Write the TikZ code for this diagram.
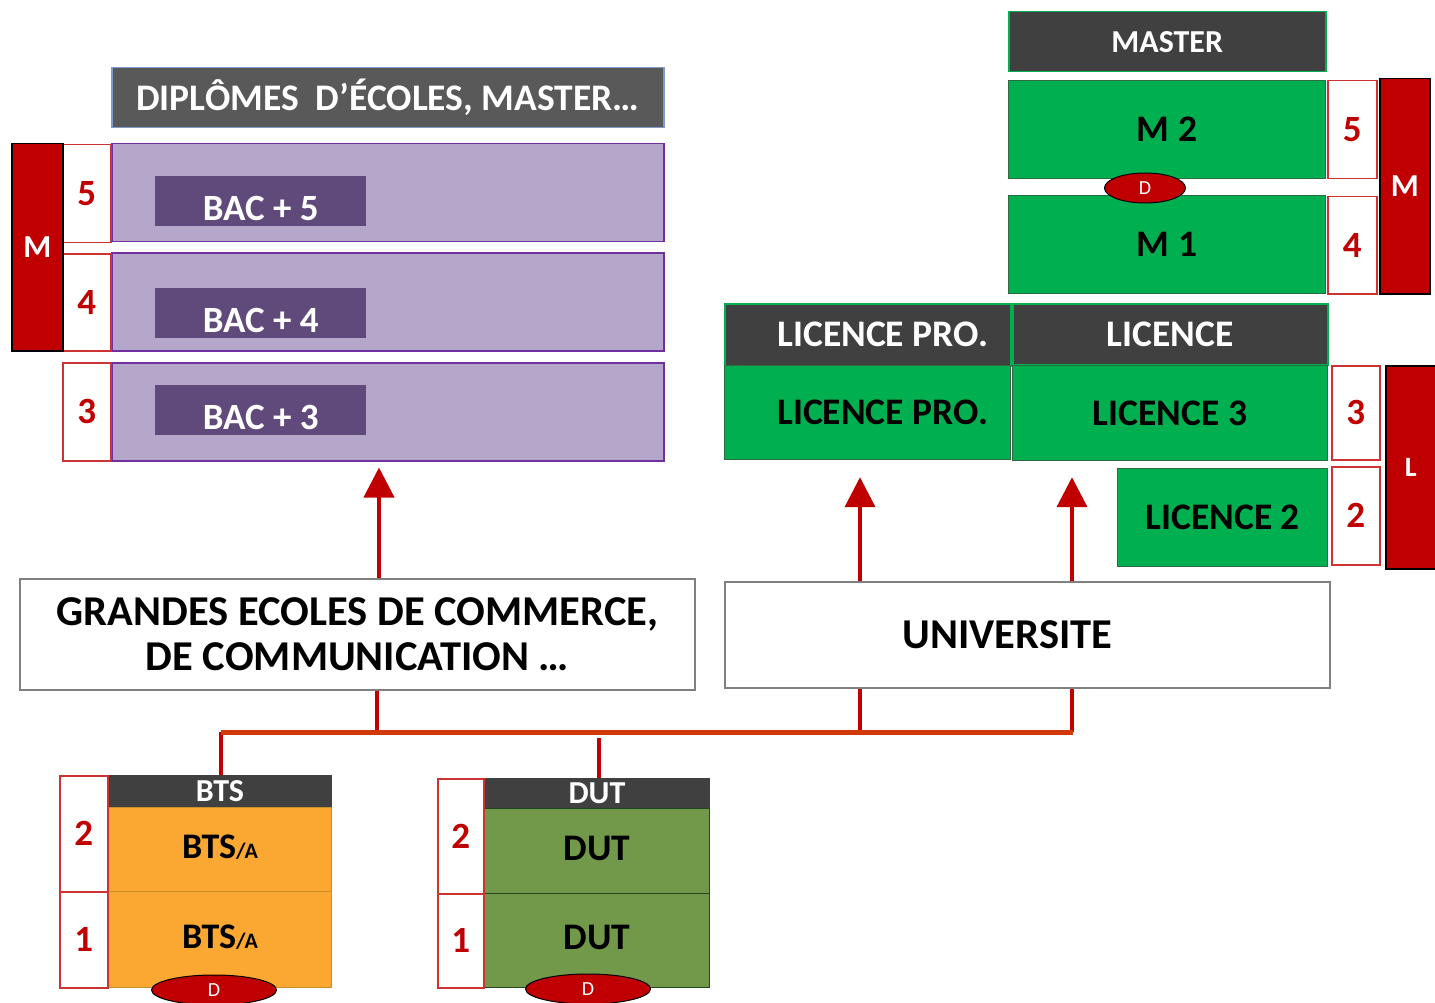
\documentclass[tikz,border=0pt]{standalone}
\usepackage{fontspec}
\setmainfont{Carlito}
\usetikzlibrary{arrows.meta,shapes.geometric}

\definecolor{hdgray}{HTML}{404040}
\definecolor{hdgrayl}{HTML}{595959}
\definecolor{hdblue}{HTML}{7F9CC9}
\definecolor{lila}{HTML}{B5A7C9}
\definecolor{lilaline}{HTML}{7030A0}
\definecolor{bacviolet}{HTML}{604A7B}
\definecolor{vert}{HTML}{00B050}
\definecolor{vertline}{HTML}{2E6B43}
\definecolor{rouge}{HTML}{C00000}
\definecolor{orangebts}{HTML}{FAA832}
\definecolor{orangeline}{HTML}{C8902A}
\definecolor{olivedut}{HTML}{72984A}
\definecolor{oliveline}{HTML}{1F4A1F}
\definecolor{busline}{HTML}{D03A0A}

\newcommand\subA{{\fontsize{22}{26}\selectfont/A}}

\begin{document}
\begin{tikzpicture}[x=1pt, y=-1pt,
  wh/.style 2 args={minimum width=#1pt, minimum height=#2pt},
  every node/.style={inner sep=0pt, anchor=north west},
  hdr/.style={draw=vert, line width=1.5pt, fill=hdgray, text=white,
    font=\fontsize{37.5}{44}\selectfont\bfseries},
  hdrs/.style={draw=hdgray, line width=1pt, fill=hdgray, text=white,
    font=\fontsize{32}{36}\selectfont\bfseries},
  grn/.style={draw=vertline, line width=1.2pt, fill=vert,
    font=\fontsize{37.5}{44}\selectfont\bfseries},
  lilarow/.style={draw=lilaline, line width=1.5pt, fill=lila},
  bacbox/.style={fill=bacviolet, text=white, text height=39pt, text depth=0pt,
    font=\fontsize{37}{44}\selectfont\bfseries},
  numbox/.style={draw=rouge!80, line width=1.5pt, fill=white, text=rouge,
    font=\fontsize{37}{44}\selectfont\bfseries},
  bar/.style={draw=black, line width=1.5pt, fill=rouge, text=white,
    font=\fontsize{32}{38}\selectfont\bfseries},
  dip/.style={ellipse, anchor=center, draw=black, line width=1pt, fill=rouge,
    text=white, font=\fontsize{20}{24}\selectfont},
  school/.style={draw=gray, line width=2pt, fill=white, align=center,
    font=\fontsize{42.5}{45}\selectfont\bfseries},
  btsrow/.style={draw=orangeline, line width=1pt, fill=orangebts,
    text height=18pt, text depth=0pt,
    font=\fontsize{36}{43}\selectfont\bfseries},
  dutrow/.style={draw=oliveline, line width=1pt, fill=olivedut,
    text height=18pt, text depth=0pt,
    font=\fontsize{37.5}{44}\selectfont\bfseries},
  link/.style={draw=rouge, line width=4pt},
  bus/.style={draw=busline, line width=5pt},
  uparrow/.style={draw=rouge, line width=4pt,
    -{Triangle[length=30pt, width=30pt]}}]

  \useasboundingbox (0,0) rectangle (1435,1003);

  % ecoles
  \node[hdr, draw=hdblue, fill=hdgrayl, wh={552}{60}] (diplomes) at (111,67)
    {DIPLÔMES\ \ D’ÉCOLES, MASTER…};
  \node[lilarow, wh={552}{98}] (row5) at (111,143) {};
  \node[lilarow, wh={552}{98}] (row4) at (111,252) {};
  \node[lilarow, wh={552}{98}] (row3) at (111,362) {};
  \node[bacbox, wh={211}{50}] (bac5) at (155,176) {BAC + 5};
  \node[bacbox, wh={211}{50}] (bac4) at (155,288) {BAC + 4};
  \node[bacbox, wh={211}{50}] (bac3) at (155,385) {BAC + 3};
  \node[numbox, wh={48}{98}] (nl5) at (62,144) {5};
  \node[numbox, wh={48}{97}] (nl4) at (62,253) {4};
  \node[numbox, wh={48}{98}] (nl3) at (62,362) {3};
  \node[bar, wh={51}{207}] (mleft) at (11,143) {M};

  % master
  \node[hdr, font=\fontsize{32}{38}\selectfont\bfseries, wh={317}{60}]
    (master) at (1008,11) {MASTER};
  \node[grn, wh={317}{98}] (m2) at (1008,80) {M 2};
  \node[grn, wh={317}{98}] (m1) at (1008,195) {M 1};
  \node[numbox, wh={49}{98}] (nr5) at (1327,80) {5};
  \node[numbox, wh={49}{97}] (nr4) at (1327,196) {4};
  \node[bar, wh={50}{215}] (mright) at (1379,78) {M};
  \node[dip, minimum width=81pt, minimum height=30pt] (dm) at (1145,188) {D};

  % licence
  \node[hdr, wh={286}{62}] (lphead) at (724,303) {\hspace*{30pt}LICENCE PRO.};
  \node[hdr, wh={315}{61}] (lhead) at (1012,303) {LICENCE};
  \node[grn, wh={286}{94}] (lp) at (724,365) {\hspace*{30pt}LICENCE PRO.};
  \node[grn, wh={315}{95}] (l3) at (1012,365) {LICENCE 3};
  \node[grn, wh={210}{98}] (l2) at (1117,468) {LICENCE 2};
  \node[numbox, wh={48}{94}] (nr3) at (1331,365) {3};
  \node[numbox, wh={48}{98}] (nr2) at (1331,466) {2};
  \node[bar, font=\fontsize{28}{34}\selectfont\bfseries, wh={50}{203}]
    (lbar) at (1385,365) {L};

  % etablissements
  \node[school, wh={675}{111}] (grandes) at (19,578)
    {GRANDES ECOLES DE COMMERCE,\\DE COMMUNICATION …};
  \node[school, wh={605}{106}] (univ) at (724,581) {UNIVERSITE\hspace*{40pt}};

  % bts
  \node[hdrs, wh={223}{32}] (btshead) at (108,775) {BTS};
  \node[btsrow, wh={223}{84}] (bts2) at (108,807) {BTS\subA};
  \node[btsrow, wh={223}{96}] (bts1) at (108,891) {BTS\subA};
  \node[numbox, wh={48}{116}] (nb2) at (59,775) {2};
  \node[numbox, wh={48}{96}] (nb1) at (59,891) {1};
  \node[dip, minimum width=125pt, minimum height=30pt] (dbts) at (214,990) {D};

  % dut
  \node[hdrs, wh={225}{30}] (duthead) at (484,778) {DUT};
  \node[dutrow, wh={225}{85}] (dut2) at (484,808) {DUT};
  \node[dutrow, wh={225}{94}] (dut1) at (484,893) {DUT};
  \node[numbox, wh={46}{115}] (nd2) at (437,778) {2};
  \node[numbox, wh={46}{94}] (nd1) at (437,893) {1};
  \node[dip, minimum width=125pt, minimum height=30pt] (ddut) at (588,989) {D};

  % liaisons
  \coordinate (busL) at (221,732);
  \coordinate (busR) at (1073,732);
  \coordinate (dutTop) at (599,738);
  \draw[link] (grandes.south -| 377,0) -- (busL -| 377,0);
  \draw[link] (univ.south -| 860,0) -- (busL -| 860,0);
  \draw[link] (univ.south -| 1072,0) -- (busL -| 1072,0);
  \draw[link] (busL) -- (busL |- btshead.north);
  \draw[link] (dutTop) -- (dutTop |- duthead.north);
  \draw[bus] (busL) -- (busR);

  \draw[uparrow, shorten >=6pt] (grandes.north -| 379,0) -- (row3.south -| 379,0);
  \draw[uparrow, shorten >=17pt] (univ.north -| 860,0) -- (lp.south -| 860,0);
  \draw[uparrow, shorten >=16pt] (univ.north -| 1072,0) -- (l3.south -| 1072,0);
\end{tikzpicture}
\end{document}
